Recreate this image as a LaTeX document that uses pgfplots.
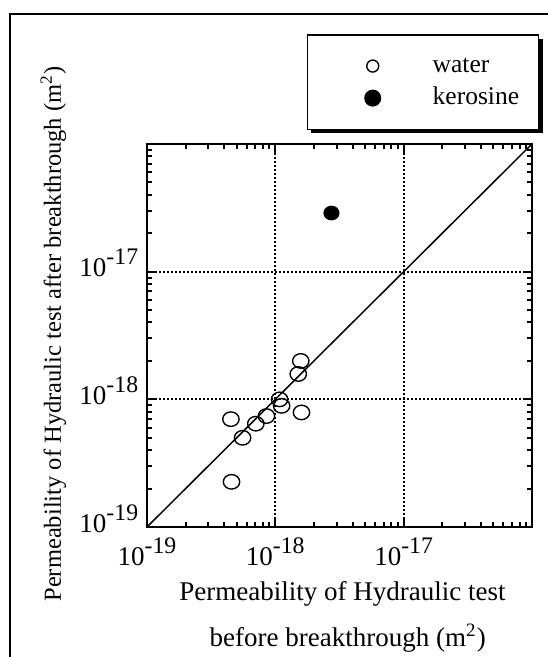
\documentclass[border=0pt]{standalone}
\usepackage{pgfplots}
\pgfplotsset{compat=1.18}
\usepackage{fontspec}
\setmainfont{Liberation Serif}
\usetikzlibrary{shadows}
\newcommand{\tl}[1]{10\raisebox{4.8pt}{\fontsize{9.5}{9.5}\selectfont -#1}}
\pgfplotsset{
 wlegend/.style={legend image code/.code={\pgfpathrectangle{\pgfpoint{0pt}{-1pt}}{\pgfpoint{46.1pt}{2pt}}\pgfusepath{discard}\draw[##1,only marks,mark size=2.4pt,mark options={line width=0.55pt,draw=black}] plot coordinates {(22.1pt,0pt)};}},
 klegend/.style={legend image code/.code={\pgfpathrectangle{\pgfpoint{0pt}{-1pt}}{\pgfpoint{46.1pt}{2pt}}\pgfusepath{discard}\draw[##1,only marks,mark size=3.1pt,mark options={fill=black,draw=black}] plot coordinates {(22.1pt,0pt)};}},
}
\begin{document}
\begin{tikzpicture}
\begin{axis}[
 at={(0pt,0pt)}, anchor=south west,
 scale only axis, width=154pt, height=153.2pt,
 xmode=log, ymode=log,
 xmin=1e-19, xmax=1e-16, ymin=1e-19, ymax=1e-16,
 xtick={1e-19,1e-18,1e-17,1e-16},
 ytick={1e-19,1e-18,1e-17,1e-16},
 xticklabels={\tl{19},\tl{18},\tl{17},{}},
 yticklabels={\tl{19},\tl{18},\tl{17},{}},
 minor xtick={2e-19,3e-19,4e-19,5e-19,6e-19,7e-19,8e-19,9e-19,2e-18,3e-18,4e-18,5e-18,6e-18,7e-18,8e-18,9e-18,2e-17,3e-17,4e-17,5e-17,6e-17,7e-17,8e-17,9e-17},
 minor ytick={2e-19,3e-19,4e-19,5e-19,6e-19,7e-19,8e-19,9e-19,2e-18,3e-18,4e-18,5e-18,6e-18,7e-18,8e-18,9e-18,2e-17,3e-17,4e-17,5e-17,6e-17,7e-17,8e-17,9e-17},
 tick align=inside,
 major tick length=3.6pt, minor tick length=2pt,
 tick style={black, line width=0.8pt},
 axis line style={line width=0.9pt},
 grid=major,
 major grid style={black, line width=0.7pt, dash pattern=on 0.7pt off 0.9pt},
 ticklabel style={font=\fontsize{10.8}{12}\selectfont},
 xticklabel style={anchor=base, yshift=-15.2pt},
 yticklabel style={anchor=base east, yshift=-2.1pt},
 xlabel={Permeability of Hydraulic test},
 xlabel style={at={(axis description cs:0.508,-0.193)}, anchor=base, font=\fontsize{10.8}{12}\selectfont},
 ylabel={Permeability of Hydraulic test after breakthrough (m\textsuperscript{2})},
 ylabel style={at={(axis description cs:-0.2234,0.504)}, anchor=base, font=\fontsize{9.8}{11}\selectfont},
 legend style={at={(axis description cs:0.415,1.287)}, anchor=north west,
   draw=black, line width=0.6pt, fill=white,
   inner xsep=4pt, inner ysep=7.9pt, row sep=3.6pt, column sep=0pt,
   font=\fontsize{10.2}{11}\selectfont,
   nodes={inner sep=0pt, text height=7pt, text depth=2.2pt, text width=38.4pt},
   drop shadow={shadow xshift=1.6pt, shadow yshift=-1.6pt, fill=black, opacity=1}},
 legend cell align=left,
]
\addplot[black, line width=0.6pt, forget plot] coordinates {(1e-19,1e-19) (1e-16,1e-16)};
\addplot[only marks, mark=o, mark size=2.9pt, mark options={xscale=1.13, line width=0.55pt, draw=black}, wlegend]
 coordinates {
 (1.58e-18,2.0e-18)
 (1.51e-18,1.58e-18)
 (1.08e-18,1.0e-18)
 (1.12e-18,0.89e-18)
 (1.6e-18,0.79e-18)
 (0.853e-18,0.74e-18)
 (0.705e-18,0.645e-18)
 (0.451e-18,0.70e-18)
 (0.556e-18,0.50e-18)
 (0.456e-18,0.226e-18)
 };
\addlegendentry{water}
\addplot[only marks, mark=*, mark size=2.75pt, mark options={xscale=1.1, fill=black, draw=black}, klegend]
 coordinates {(2.74e-18,2.88e-17)};
\addlegendentry{kerosine}
\end{axis}
\node[anchor=base, font=\fontsize{10.8}{12}\selectfont] at (80.3pt,-47.6pt) {before breakthrough (m\textsuperscript{2})};
\draw[line width=0.8pt] (162pt,205.2pt) -- (-54.8pt,205.2pt) -- (-54.8pt,-54pt);
\pgfresetboundingbox
\useasboundingbox (-58.8pt,-52pt) rectangle (160.4pt,210.8pt);
\end{tikzpicture}
\end{document}
